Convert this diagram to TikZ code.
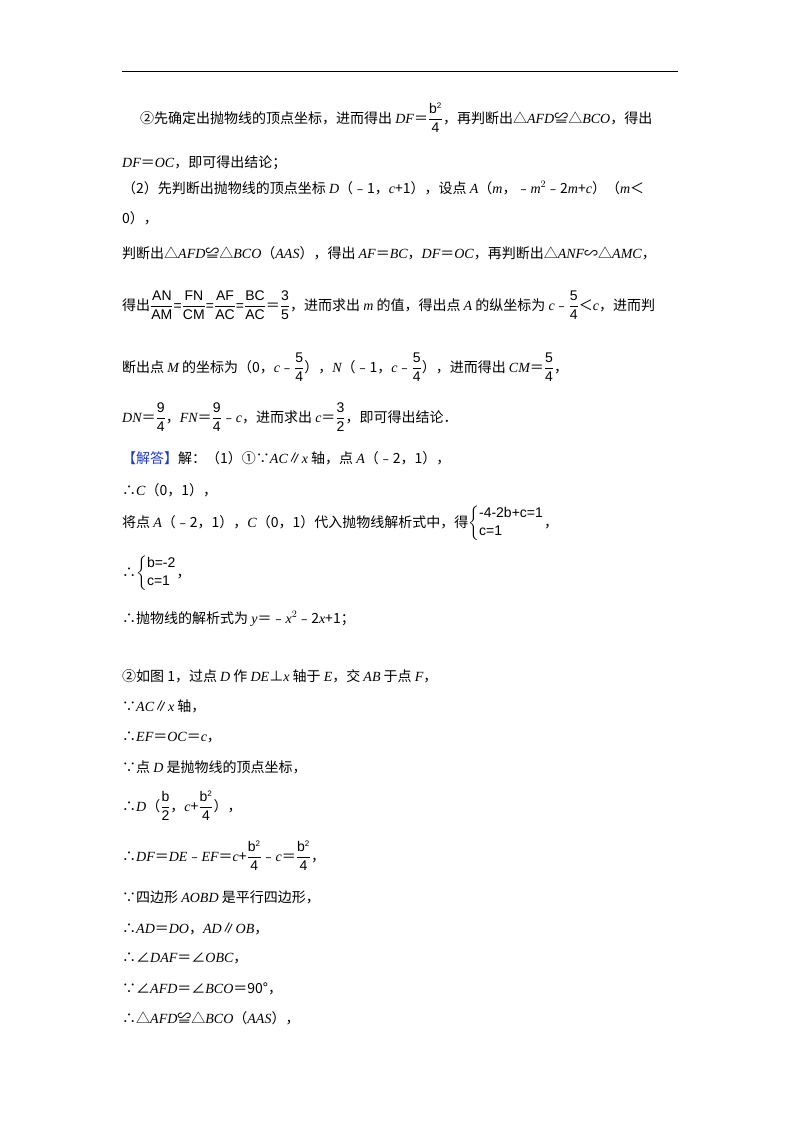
\documentclass[tikz,border=0pt]{standalone}
\usepackage{amsmath}
\usepackage{fontspec}
\setmainfont{Noto Sans CJK SC}
\newfontfamily\tnr{Liberation Serif}
\newfontfamily\sa{Liberation Sans}
\newcommand\mi[1]{{\tnr\itshape #1}}
\newcommand\fr[2]{$\dfrac{\hbox{\sa #1}}{\hbox{\sa #2}}$}
\newcommand\bsq{\hbox{\sa b$^{\hbox{\sa\footnotesize 2}}$}}
\definecolor{jd}{RGB}{30,60,200}
\begin{document}
\begin{tikzpicture}[x=1pt,y=-1pt,t/.style={anchor=base west,inner sep=0pt,font=\fontsize{14}{16}\selectfont}]
\useasboundingbox (0,0) rectangle (800,1132);
\draw[line width=1pt] (122,72) coordinate (r1) -- (678,72) coordinate (r2);
\node[t] (l1) at (140,123) {②先确定出抛物线的顶点坐标，进而得出 \mi{DF}＝\fr{\bsq}{4}，再判断出△\mi{AFD}≌△\mi{BCO}，得出};
\node[t] (l2) at (122,167) {\mi{DF}＝\mi{OC}，即可得出结论；};
\node[t] (l3) at (122,193) {（2）先判断出抛物线的顶点坐标 \mi{D}（﹣1，\mi{c}+1），设点 \mi{A}（\mi{m}，﹣\mi{m}$^2$﹣2\mi{m}+\mi{c}）（\mi{m}＜};
\node[t] (l4) at (122,223) {0），};
\node[t] (l5) at (122,258) {判断出△\mi{AFD}≌△\mi{BCO}（\mi{AAS}），得出 \mi{AF}＝\mi{BC}，\mi{DF}＝\mi{OC}，再判断出△\mi{ANF}∽△\mi{AMC}，};
\node[t] (l6) at (122,310) {得出\fr{AN}{AM}\hbox{\sa =}\fr{FN}{CM}\hbox{\sa =}\fr{AF}{AC}\hbox{\sa =}\fr{BC}{AC}＝\fr{3}{5}，进而求出 \mi{m} 的值，得出点 \mi{A} 的纵坐标为 \mi{c}﹣\fr{5}{4}＜\mi{c}，进而判};
\node[t] (l7) at (122,372) {断出点 \mi{M} 的坐标为（0，\mi{c}﹣\fr{5}{4}），\mi{N}（﹣1，\mi{c}﹣\fr{5}{4}），进而得出 \mi{CM}＝\fr{5}{4}，};
\node[t] (l8) at (122,422) {\mi{DN}＝\fr{9}{4}，\mi{FN}＝\fr{9}{4}﹣\mi{c}，进而求出 \mi{c}＝\fr{3}{2}，即可得出结论．};
\node[t] (l9) at (122,463) {\textcolor{jd}{【解答】}解：（1）①∵\mi{AC}∥\mi{x} 轴，点 \mi{A}（﹣2，1），};
\node[t] (l10) at (122,495) {∴\mi{C}（0，1），};
\node[t] (l11) at (122,527) {将点 \mi{A}（﹣2，1），\mi{C}（0，1）代入抛物线解析式中，得$\left\{\begin{array}{@{}l@{}}\hbox{\sa -4-2b+c=1}\\[2pt]\hbox{\sa c=1}\end{array}\right.$，};
\node[t] (l12) at (122,577) {∴$\left\{\begin{array}{@{}l@{}}\hbox{\sa b=-2}\\[2pt]\hbox{\sa c=1}\end{array}\right.$，};
\node[t] (l13) at (122,623) {∴抛物线的解析式为 \mi{y}＝﹣\mi{x}$^2$﹣2\mi{x}+1；};
\node[t] (l14) at (122,681) {②如图 1，过点 \mi{D} 作 \mi{DE}⊥\mi{x} 轴于 \mi{E}，交 \mi{AB} 于点 \mi{F}，};
\node[t] (l15) at (122,711) {∵\mi{AC}∥\mi{x} 轴，};
\node[t] (l16) at (122,741) {∴\mi{EF}＝\mi{OC}＝\mi{c}，};
\node[t] (l17) at (122,772) {∵点 \mi{D} 是抛物线的顶点坐标，};
\node[t] (l18) at (122,811) {∴\mi{D}（\fr{b}{2}，\mi{c}+\fr{\bsq}{4}），};
\node[t] (l19) at (122,861) {∴\mi{DF}＝\mi{DE}﹣\mi{EF}＝\mi{c}+\fr{\bsq}{4}﹣\mi{c}＝\fr{\bsq}{4}，};
\node[t] (l20) at (122,902) {∵四边形 \mi{AOBD} 是平行四边形，};
\node[t] (l21) at (122,933) {∴\mi{AD}＝\mi{DO}，\mi{AD}∥\mi{OB}，};
\node[t] (l22) at (122,962) {∴∠\mi{DAF}＝∠\mi{OBC}，};
\node[t] (l23) at (122,993) {∵∠\mi{AFD}＝∠\mi{BCO}＝90°，};
\node[t] (l24) at (122,1023) {∴△\mi{AFD}≌△\mi{BCO}（\mi{AAS}），};
\end{tikzpicture}
\end{document}
